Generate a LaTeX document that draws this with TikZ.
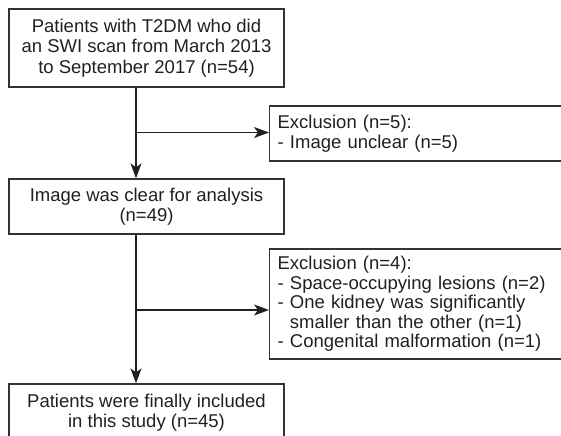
\documentclass[tikz,border=0pt]{standalone}
\usepackage{fontspec}
\setmainfont{Liberation Sans}
\usetikzlibrary{arrows.meta}
\definecolor{ink}{HTML}{231F20}
\definecolor{edge}{HTML}{333333}
\begin{document}
\begin{tikzpicture}[x=1bp,y=-1bp,
  box/.style={draw=edge, line width=1.3bp, text=ink, inner sep=0pt,
    font=\fontsize{18.5bp}{20.3bp}\selectfont},
  cbox/.style={box, align=center, minimum width=275bp},
  lbox/.style={box, align=left, anchor=west, inner xsep=8bp, text width=284bp, minimum width=300bp},
  arr/.style={draw=ink, line width=1.3bp, -{Stealth[length=15bp,width=11bp,inset=4bp]}}
]
\useasboundingbox (0,0) rectangle (561,436);
\node[cbox, minimum height=78bp] (b1) at (146.5,48)
  {Patients with T2DM who did\\an SWI scan from March 2013\\to September 2017 (n=54)};
\node[lbox, minimum height=55bp] (b2) at (269,133.5)
  {Exclusion (n=5):\\- Image unclear (n=5)};
\node[cbox, minimum height=55bp] (b3) at (146.5,206.5)
  {Image was clear for analysis\\(n=49)};
\node[lbox, minimum height=110bp, font=\fontsize{18.5bp}{19.6bp}\selectfont] (b4) at (269,304)
  {Exclusion (n=4):\\- Space-occupying lesions (n=2)\\- One kidney was significantly\\\hphantom{-}\ smaller than the other (n=1)\\- Congenital malformation (n=1)};
\node[cbox, minimum height=58bp] (b5) at (146.5,413)
  {Patients were finally included\\in this study (n=45)};
\coordinate (j1) at (136,132.5);
\coordinate (j2) at (136,310);
\draw[arr] (b1.south -| j1) -- (b3.north -| j1);
\draw[arr] (j1) -- (j1 -| b2.west);
\draw[arr] (b3.south -| j2) -- (b5.north -| j2);
\draw[arr] (j2) -- (j2 -| b4.west);
\end{tikzpicture}
\end{document}
